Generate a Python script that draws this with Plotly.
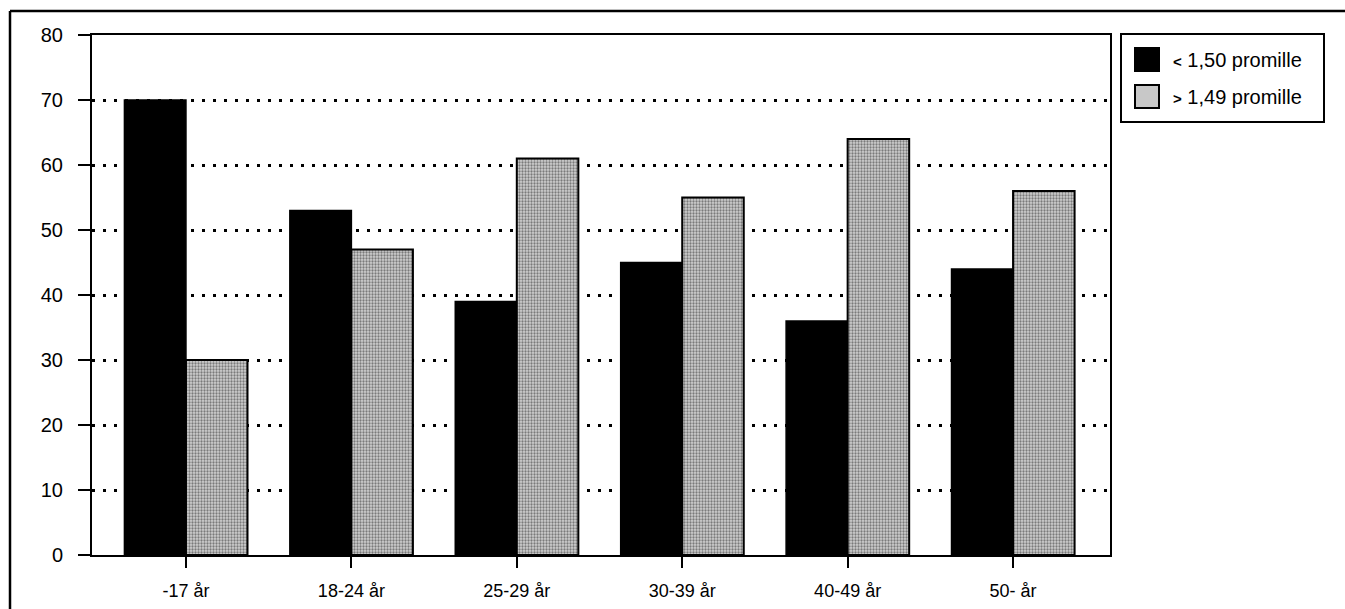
import plotly.graph_objects as go

categories = ["-17 år", "18-24 år", "25-29 år", "30-39 år", "40-49 år", "50- år"]
below_150 = [70, 53, 39, 45, 36, 44]
above_149 = [30, 47, 61, 55, 64, 56]
series_names = ["< 1,50 promille", "> 1,49 promille"]
legend_labels = ["<span style='font-size:15px'><b>&lt;</b></span> 1,50 promille",
                 "<span style='font-size:15px'><b>&gt;</b></span> 1,49 promille"]
y_ticks = [0, 10, 20, 30, 40, 50, 60, 70, 80]

FONT = "Liberation Sans, Arial, sans-serif"
GRAY = "#c8c8c8"

W, H = 1345, 609
L, R, T, B = 92, 1110, 35, 555

def px(x):
    return (x - L) / (R - L)

def py(y):
    return (B - y) / (B - T)

fig = go.Figure()
fig.add_trace(go.Bar(
    x=categories, y=below_150, name=series_names[0], showlegend=False,
    marker=dict(color="black", line=dict(color="black", width=1.5)),
))
fig.add_trace(go.Bar(
    x=categories, y=above_149, name=series_names[1], showlegend=False,
    marker=dict(color=GRAY, line=dict(color="black", width=2),
                pattern=dict(shape=".", fgcolor="#7a7a7a", bgcolor="#d0d0d0", size=3, solidity=0.45)),
))

fig.update_layout(
    template="none",
    width=W, height=H,
    margin=dict(l=L, r=W - R, t=T, b=H - B, pad=0, autoexpand=False),
    paper_bgcolor="white", plot_bgcolor="white",
    barmode="group", bargap=0.256, bargroupgap=0,
    font=dict(family=FONT, color="black", size=18),
    showlegend=False,
)
fig.update_xaxes(
    range=[-0.568, 5.586], automargin=False,
    showline=True, linecolor="black", linewidth=2, mirror=True,
    ticks="outside", ticklen=11, tickwidth=2, tickcolor="black",
    showgrid=False, tickfont=dict(size=18, family=FONT), ticklabelstandoff=7,
)
fig.update_yaxes(
    range=[0, 80], tickvals=y_ticks, automargin=False,
    showline=True, linecolor="black", linewidth=2, mirror=True,
    ticks="outside", ticklen=12, tickwidth=2, tickcolor="black",
    showgrid=True, gridcolor="black", gridwidth=2.5, griddash="3px,8px",
    zeroline=False, tickfont=dict(size=20, family=FONT), ticklabelstandoff=11,
)

# outer frame (top and left edges)
fig.add_shape(type="line", xref="paper", yref="paper",
              x0=px(10), x1=px(1345), y0=py(11), y1=py(11),
              line=dict(color="black", width=2.5))
fig.add_shape(type="line", xref="paper", yref="paper",
              x0=px(10), x1=px(10), y0=py(11), y1=py(609),
              line=dict(color="black", width=2.5))

# legend box
fig.add_shape(type="rect", xref="paper", yref="paper",
              x0=px(1121), x1=px(1324), y0=py(34), y1=py(122),
              line=dict(color="black", width=2), fillcolor="white")
swatch_rows = [(48, 71, "black"), (85, 108, GRAY)]
for (y0, y1, col), label in zip(swatch_rows, legend_labels):
    fig.add_shape(type="rect", xref="paper", yref="paper",
                  x0=px(1135), x1=px(1159), y0=py(y0), y1=py(y1),
                  line=dict(color="black", width=2), fillcolor=col)
    fig.add_annotation(xref="paper", yref="paper", x=px(1171), y=py((y0 + y1) / 2),
                       text=label, showarrow=False, xanchor="left", yanchor="middle",
                       font=dict(size=20, family=FONT, color="black"))

fig.write_html("out.html", config={"displayModeBar": False},
               post_script="document.body.style.margin='0';")
